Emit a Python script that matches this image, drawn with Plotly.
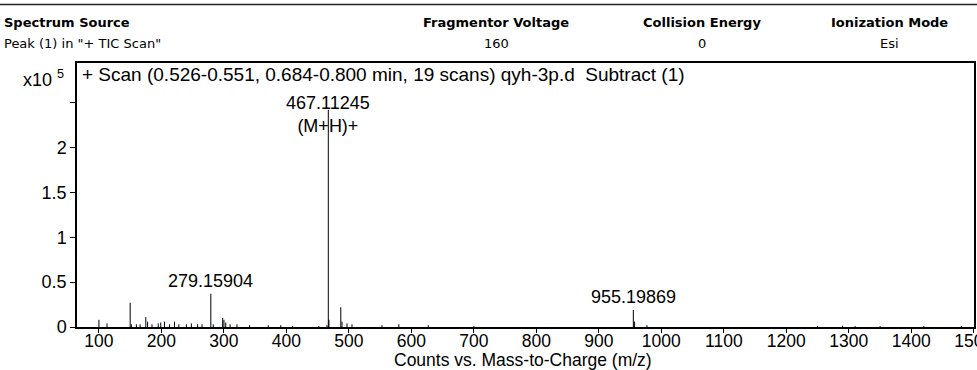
import plotly.graph_objects as go

# ---- data (m/z, intensity in units of 1e5 counts) ----
mz = [100.1, 113.0, 150.1, 152.0, 160.0, 166.0, 175.1, 178.0, 185.0, 195.0,
      199.0, 205.0, 213.0, 221.0, 228.0, 240.0, 248.0, 258.0, 265.0, 279.16,
      283.0, 298.1, 300.1, 303.0, 310.0, 321.0, 341.0, 371.0, 391.0, 410.0,
      452.0, 465.0, 467.11, 468.1, 487.1, 489.0, 497.0, 505.0, 553.0, 580.0,
      627.0, 700.0, 955.2, 957.2, 977.0, 1250.0, 1290.0, 1310.0, 1350.0, 1420.0,
      1480.0]
intensity = [0.08, 0.04, 0.27, 0.03, 0.03, 0.03, 0.11, 0.06, 0.03, 0.04,
             0.05, 0.06, 0.03, 0.06, 0.03, 0.03, 0.04, 0.03, 0.03, 0.37,
             0.03, 0.10, 0.08, 0.05, 0.03, 0.03, 0.02, 0.02, 0.02, 0.01,
             0.01, 0.02, 2.42, 0.08, 0.22, 0.06, 0.04, 0.03, 0.02, 0.03,
             0.02, 0.01, 0.19, 0.06, 0.02, 0.01, 0.015, 0.01, 0.01, 0.01,
             0.01]
label_mz = [467.11245, 279.15904, 955.19869]
label_int = [2.42, 0.37, 0.19]
label_text = ["467.11245<br>(M+H)+", "279.15904", "955.19869"]
x_ticks = [100, 200, 300, 400, 500, 600, 700, 800, 900, 1000, 1100, 1200, 1300, 1400, 1500]
y_ticks = [0, 0.5, 1, 1.5, 2, 2.5]
y_ticktext = ["0", "0.5", "1", "1.5", "2", ""]
header_cols = ["Spectrum Source", "Fragmentor Voltage", "Collision Energy", "Ionization Mode"]
header_vals = ['Peak (1) in "+ TIC Scan"', "160", "0", "Esi"]
scan_title = "+ Scan (0.526-0.551, 0.684-0.800 min, 19 scans) qyh-3p.d  Subtract (1)"
x_title = "Counts vs. Mass-to-Charge (m/z)"

# ---- geometry ----
W, H = 977, 370
ML, MR, MT, MB = 77, 3, 63, 43
PW, PH = W - ML - MR, H - MT - MB

def px(x):
    return (x - ML) / PW

def py(y):
    return (H - MB - y) / PH

# stick spectrum built from data
xs, ys = [], []
for m, v in zip(mz, intensity):
    xs += [m, m, None]
    ys += [0, v, None]

fig = go.Figure()
fig.add_trace(go.Scatter(x=xs, y=ys, mode="lines",
                         line=dict(color="black", width=1), hoverinfo="skip",
                         showlegend=False))

FONT = "Liberation Sans, Arial, sans-serif"
HFONT = "DejaVu Sans, Verdana, sans-serif"

ann = []
# peak labels
for i, (m, v, t) in enumerate(zip(label_mz, label_int, label_text)):
    ann.append(dict(x=m, y=v, xref="x", yref="y", text=t, showarrow=False,
                    yanchor="bottom", yshift=(-28 if i == 0 else 1),
                    font=dict(family=FONT, size=18, color="black")))
# scan title
ann.append(dict(x=px(80), y=py(75), xref="paper", yref="paper", text=scan_title,
                showarrow=False, xanchor="left", yanchor="middle",
                font=dict(family=FONT, size=19, color="black")))
# x-axis title
ann.append(dict(x=px(523), y=py(360), xref="paper", yref="paper", text=x_title,
                showarrow=False, xanchor="center", yanchor="middle",
                font=dict(family=FONT, size=17.5, color="black")))
# exponent label
ann.append(dict(x=px(66), y=py(79), xref="paper", yref="paper",
                text="x10 <sup>5</sup>", showarrow=False, xanchor="right",
                yanchor="middle", font=dict(family=FONT, size=18, color="black")))
# header table
hx = [2, 496, 702, 889]
for i, (c, v) in enumerate(zip(header_cols, header_vals)):
    anchor = "left" if i == 0 else "center"
    ann.append(dict(x=px(hx[i]), y=py(23), xref="paper", yref="paper",
                    text="<b>" + c + "</b>", showarrow=False, xanchor=anchor,
                    yanchor="middle", font=dict(family=HFONT, size=13, color="black")))
    ann.append(dict(x=px(hx[i]), y=py(43), xref="paper", yref="paper",
                    text=v, showarrow=False, xanchor=anchor, yanchor="middle",
                    font=dict(family=HFONT, size=13, color="black")))

shapes = [dict(type="line", xref="paper", yref="paper", x0=px(0), x1=px(W),
               y0=py(4.5), y1=py(4.5), line=dict(color="#222", width=1.5))]

fig.update_layout(
    width=W, height=H,
    margin=dict(l=ML, r=MR, t=MT, b=MB, autoexpand=False),
    paper_bgcolor="white", plot_bgcolor="white",
    annotations=ann, shapes=shapes, showlegend=False,
    xaxis=dict(range=[65, 1500.3], tickvals=x_ticks, ticks="outside", ticklen=4,
               tickcolor="black", showgrid=False, zeroline=False,
               showline=True, linecolor="black", linewidth=1.5, mirror=True,
               ticklabeloverflow="allow", automargin=False,
               ticklabelstandoff=-7,
               tickfont=dict(family=FONT, size=17.5, color="black")),
    yaxis=dict(range=[0, 2.94], tickvals=y_ticks, ticktext=y_ticktext,
               ticks="outside", ticklen=5, tickcolor="black", showgrid=False,
               zeroline=False, showline=True, linecolor="black", linewidth=1.5,
               mirror=True, automargin=False,
               tickfont=dict(family=FONT, size=18, color="black")),
)

fig.write_html("out.html")
